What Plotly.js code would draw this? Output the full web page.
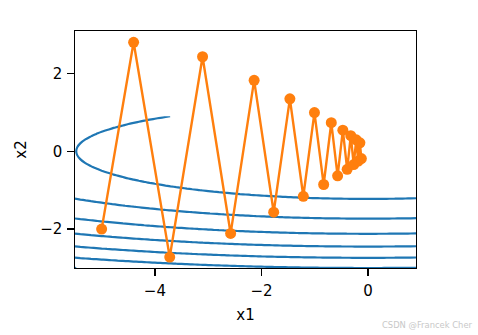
<!DOCTYPE html>
<html>
<head>
<meta charset="utf-8">
<script src="https://cdn.plot.ly/plotly-3.0.1.min.js"></script>
<style>html,body{margin:0;padding:0;background:#fff;}#chart{width:478px;height:335px;}</style>
</head>
<body>
<div id="chart"></div>
<script>
// Trace of optimizer iterates
const traceX1 = [-5, -4.4, -3.722, -3.106, -2.579, -2.138, -1.771, -1.467, -1.215, -1.006, -0.833, -0.690, -0.571, -0.473, -0.392, -0.324, -0.269, -0.222, -0.184, -0.153, -0.126];
const traceX2 = [-2, 2.8, -2.72, 2.428, -2.112, 1.822, -1.567, 1.347, -1.157, 0.994, -0.854, 0.733, -0.630, 0.541, -0.465, 0.399, -0.343, 0.295, -0.253, 0.217, -0.187];
// Objective f(x1,x2) = a*x1^2 + b*x2^2 drawn as contour lines
const coefA = 0.1, coefB = 2;
const gridX1 = [], gridX2 = [];
for (let i = 0; i <= 64; i++) gridX1.push(+(-5.5 + 0.1 * i).toFixed(2));
for (let j = 0; j <= 39; j++) gridX2.push(+(-3.0 + 0.1 * j).toFixed(2));
const gridZ = gridX2.map(y => gridX1.map(x => coefA * x * x + coefB * y * y));
const contourStart = 3, contourEnd = 21, contourStep = 3;
const xTicks = [-4, -2, 0], yTicks = [-2, 0, 2];
const tickText = v => (v < 0 ? '\u2212' + Math.abs(v) : String(v));

const data = [
  {
    type: 'contour', x: gridX1, y: gridX2, z: gridZ,
    contours: {coloring: 'lines', start: contourStart, end: contourEnd, size: contourStep, showlabels: false},
    colorscale: [[0, '#1f77b4'], [1, '#1f77b4']],
    showscale: false, line: {width: 2.2, smoothing: 1}, hoverinfo: 'skip'
  },
  {
    type: 'scatter', mode: 'lines+markers', x: traceX1, y: traceX2,
    line: {color: '#ff7f0e', width: 2.4}, marker: {color: '#ff7f0e', size: 11}, cliponaxis: true
  }
];
const font = {family: 'DejaVu Sans, sans-serif', size: 15, color: '#000'};
const layout = {
  width: 478, height: 335,
  margin: {l: 75.3, r: 62, t: 30.5, b: 67.3},
  paper_bgcolor: '#fff', plot_bgcolor: '#fff',
  showlegend: false, font: font,
  xaxis: {
    range: [-5.5, 0.9], showgrid: false, zeroline: false,
    showline: true, linecolor: '#000', linewidth: 1.2, mirror: true,
    ticks: 'outside', ticklen: 6.5, tickwidth: 1.2, tickcolor: '#000', ticklabelstandoff: 2,
    tickvals: xTicks, ticktext: xTicks.map(tickText), tickfont: font,
    title: {text: 'x1', font: font, standoff: 10}
  },
  yaxis: {
    range: [-3.0, 3.09], showgrid: false, zeroline: false,
    showline: true, linecolor: '#000', linewidth: 1.2, mirror: true,
    ticks: 'outside', ticklen: 6.5, tickwidth: 1.2, tickcolor: '#000', ticklabelstandoff: 2,
    tickvals: yTicks, ticktext: yTicks.map(tickText), tickfont: font,
    title: {text: 'x2', font: font, standoff: 10}
  },
  annotations: [{
    text: 'CSDN @Francek Cher', xref: 'paper', yref: 'paper',
    x: 1.174, y: -0.24, xanchor: 'right', yanchor: 'middle', showarrow: false,
    font: {family: 'DejaVu Sans, sans-serif', size: 8.4, color: '#c8c8c8'}
  }]
};
Plotly.newPlot('chart', data, layout, {displayModeBar: false, staticPlot: true});
</script>
</body>
</html>
